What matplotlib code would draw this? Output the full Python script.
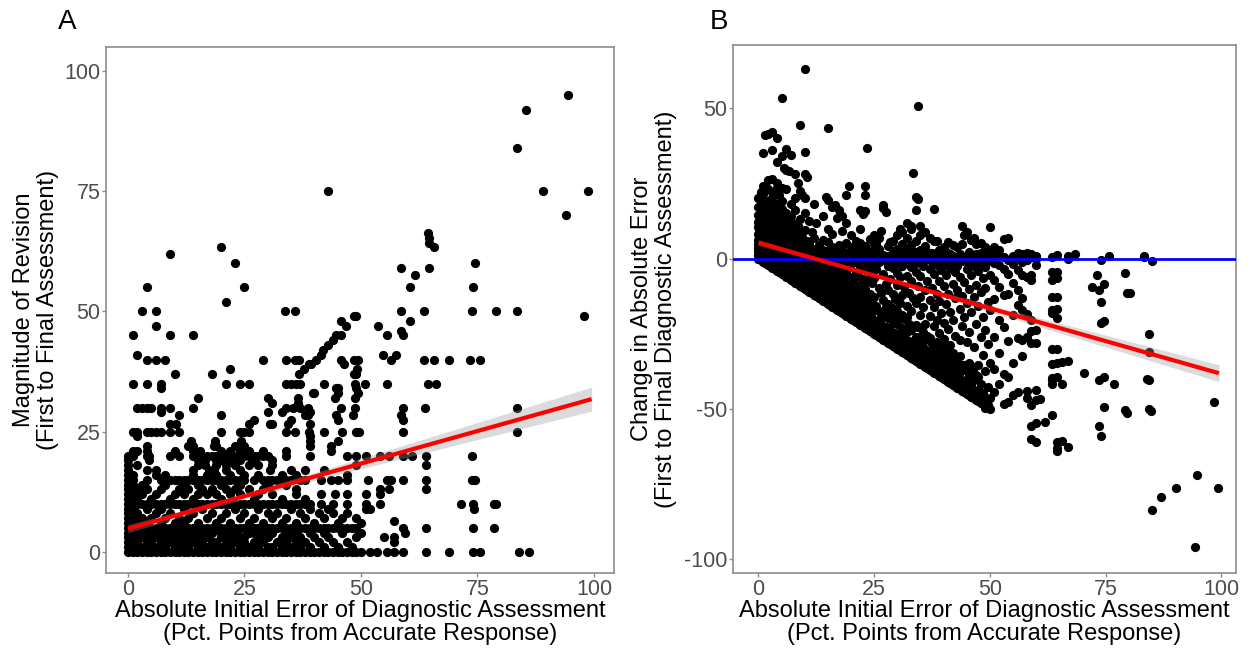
import matplotlib
matplotlib.use("Agg")
import matplotlib.pyplot as plt
import numpy as np

plt.rcParams['font.family'] = ['Liberation Sans', 'DejaVu Sans']
plt.rcParams['axes.unicode_minus'] = False

# ---------------- Panel A data: rows of (revision magnitude y, list of initial-error x) ----------------
a_rows = [
    (0, [0,1,2,3,4,5,6,7,8,9,10,11,12,13,14,15,16,17,18,19,20,21,22,23,24,25,26,27,28,29,30,31,32,33,34,35,36,37,38,39,40,41,42,43,44,45,46,47,48,49,50,52,53.5,55.5,57,59,64,69,74,75.5,84,86]),
    (1, [0,1,2,3,5,6,8,10,11,13,15,17,19,20,22,24,26,28,30,31,33,35,37,39,42,45,48]),
    (2, [0,1,2,4,5,7,9,10,12,14,16,18,19,21,23,25,27,29,32,34,36,38,41,44,47,57]),
    (3, [0,1,3,4,6,8,9,11,13,15,17,20,22,24,25,28,30,33,35,37,40,43,49,55,57]),
    (4, [0,1,2,3,5,7,9,10,12,14,16,18,20,21,23,26,27,29,31,34,36,39,42,46,50,59.4]),
    (5, [0,1,2,3,4,5,6,7,8,9,10,11,12,13,14,15,16,17,18,19,20,21,22,23,24,25,26,27,28,29,30,31,32,33,34,35,36,37,38,39,40,41,42,43,44,45,46,47,48,49,59,64,74,78.5]),
    (6, [0,2,4,7,10,12,15,19,22,26,29,33,36,40,45,50]),
    (6.5, [57]),
    (7, [0,1,3,5,8,11,13,17,20,24,27,31,34,38,42,46,49]),
    (8, [0,2,6,9,14,18,21,25,30,32,37,41,44,47]),
    (9, [0,1,4,7,12,16,23,28,35,39,43,51,52,74.3]),
    (10, [0,1,2,3,4,5,6,7,8,9,10,11,12,13,14,15,16,17,18,19,20,21,22,23,24,25,26,27,28,29,30,31,32,33,34,35,36,37,38,39,41.5,44,47,51,54,71.5,74,78.5,79]),
    (11, [0,1,2,5,9,14,20,27,33,38]),
    (12, [0,1,3,6,10,12,15,17,19,22,24,28,31,36,41.5,44.5,47,51,54]),
    (13, [0,1,2,4,7,11,13,16,18,21,23,26,29,36,54,56,64]),
    (14, [0,1,3,8,12,15,20,24,30,34]),
    (15, [0,1,4,7,8,9,10,11,12,13,14,15,16,17,18,19,20,21,22,23,24,25,27,29,30,31,32,33,34,35,37,38,41.5,43.5,45,47,51.5,55.5,56.5,59,64,73.8,74.5]),
    (16, [0,1,6,8,14,17,19,22,25,28,33,36,47]),
    (17, [0,4,6,14,17.5,18.5,21,24,30.5,35,38,42]),
    (18, [0,2,15,16.5,19,21,23,26,28,31,49,64]),
    (19, [0,4.5,15,16.5,19,20,22,24,27,31]),
    (20, [0,1,4,4.5,9,11,14,15,16,17,18,19,20,21,22,23,24,25,26,27,28,29,30,34,39,47,49,51,54,56,59,61,64,73.8]),
    (21, [1,2,4,10,14,15.5,20,22,24,26,29,34,43.5]),
    (22, [4,13,14,18.5,19,23,25,39,43.5]),
    (23, [13.6,18.6,24.3,39,45]),
    (24, [2,39]),
    (25, [1,2,4,5,6,7,9,11,20,24,25,26,34,35.8,38.8,42,46,49,49.6,59,83.5]),
    (26.5, [9,10.3,26,30.4,31,34.3,39]),
    (27.5, [27,35,45,59]),
    (28.5, [11,20,38,38.7,44.7,48.3,58.7]),
    (29, [7,30,33,39]),
    (30, [2,3,4,5,7,9,14,34,35.4,37,38.7,45.8,48.7,59,63.7,83.5]),
    (31, [31,36.5]),
    (32, [15,30,36.5,44.4,48.7]),
    (33, [39.7,40,45,49.4]),
    (34, [7,44.7,45,49]),
    (35, [1,4,7,21,24,26,34,35,36,37,42,48.7,50.8,55.7,64.4,66]),
    (37, [10,18,36.8,48.6,49]),
    (38, [22,37.8,49.2]),
    (39, [38.8,39.3,46.3]),
    (40, [4,6,8,29,34,35.8,36.7,40.4,45.8,48.5,49.3,56.5,63.6,65.6,69,73.5,75.6]),
    (41, [2,41.5,54.7,57.6]),
    (42, [41.8]),
    (43, [42.9]),
    (44, [44]),
    (45, [1,9,14,44.7,45.8,55.6,59]),
    (46, [58.5]),
    (47, [6,46.8,53.6]),
    (48, [45.8,60.6]),
    (49, [48.5,49,97.9]),
    (50, [3,6,33.8,35.8,58.6,63.6,73.8,79,83.5]),
    (52, [21]),
    (55, [4,25,60.6,74]),
    (57.5, [61.6]),
    (59, [58.6,64.6]),
    (60, [23,74.5]),
    (62, [9]),
    (63.5, [20,65.6]),
    (64.3, [64.7]),
    (65.3, [64.5]),
    (66.3, [64.3]),
    (70, [94]),
    (75, [43,89,98.8]),
    (84, [83.5]),
    (92, [85.5]),
    (95, [94.4]),
]

# ---------------- Panel B data: columns of (initial error x, list of change-in-error y) ----------------
b_cols = [
    (0, [0,1.2,2.5,3.6,4.9,6.3,8.1,10.4,12.2,14.5,17.1,20.3]),
    (0.5, [-0.5,0.6,1.9,3.2,5.5,7.4,9.1,11.3,13.6,16.2,19.4,22.1]),
    (1, [-1,0.2,1.5,4.3,6.6,8.8,10.1,12.9,15.3,18.2,21.4,24.1,35]),
    (1.5, [-1.5,-0.3,0.9,2.8,5.1,7.2,9.4,11.7,14.1,17.3,41]),
    (2, [-2,-0.8,0.4,2.1,3.9,6.1,8.4,10.6,13.2,16.4,19.2,23,26,41.5]),
    (2.5, [-2.5,-1.3,1.1,3.4,5.8,7.6,12.4,15.2,18.1]),
    (3, [-3,-1.8,-0.2,1.6,4.2,6.3,8.9,11.1,14.4,20.3,22,26.5,36,42]),
    (3.5, [-3.5,-2.2,-0.7,0.8,2.7,5.2,7.1,10.3,13.1,16.4]),
    (4, [-4,-2.7,-1.1,0.3,2.4,4.6,6.7,9.3,12.5,15.1,18,23.5,25,32,40]),
    (4.5, [-4.5,-3.2,-1.6,0.1,1.3,3.5,8.2,11.4,14.3,21]),
    (5, [-5,-3.6,-1.3,0.9,2.9,5.6,9.1,13.2,16.4,19,23.5,34,53.5]),
    (5.5, [-5.5,-4.1,-2.6,-0.5,1.7,4.2,7.3,10.2,30]),
    (6, [-6,-4.7,-3.1,-1.2,0.6,2.2,5.3,8.1,12.3,15.2,23.3,29.5,36.5]),
    (6.5, [-6.5,-5.2,-3.4,-0.9,1.3,3.1,6.4,9.2,29]),
    (7, [-7,-5.5,-3.9,-1.7,0.4,1.9,4.4,7.6,10.3,14.1,18,34.5]),
    (7.5, [-7.5,-6.2,-4.4,-2.3,-0.1,2.5,5.1,12]),
    (8, [-8,-6.7,-4.8,-2.8,-0.6,0.8,3.2,6.3,9.4,16,20,28]),
    (8.5, [-8.5,-7.1,-5.3,-3.3,-1.2,1.4,4.1,11,25]),
    (9, [-9,-7.6,-5.7,-3.6,-0.3,2.2,5.4,8.3,13,22.5,44.3]),
    (9.5, [-9.5,-8.2,-6.1,-4.2,-1.6,0.9,3.3,7.1,21]),
    (10, [-10,-8.5,-6.2,-3.4,-1.2,0.5,2.3,4.1,9.6,15,20,28,35.5,63]),
    (10.5, [-10.5,-9.1,-7.3,-4.6,-1.8,0.3,2.9,6,27]),
    (11, [-11,-9.6,-6.8,-2.7,1.2,4.8,12.4]),
    (11.5, [-11.5,-10.2,-7.9,-5.1,-0.6,3.3,8.7]),
    (12, [-12,-10.8,-8.3,-4.4,-2.2,0.4,2.1,6.8,18.3]),
    (12.5, [-12.5,-11.1,-6.5,-3.5,-0.9,1.6,11.7]),
    (13, [-13,-11.7,-9.2,-5.8,-1.5,0.9,4.6]),
    (13.5, [-13.5,-12.3,-10.4,-7.1,-2.8,0.2,3.1]),
    (14, [-14,-12.6,-9.8,-6.3,-3.9,-0.4,1.7,6.2,14]),
    (14.5, [-14.5,-13.4,-11.2,-8.5,-4.7,0.1,2.6,20.5]),
    (15, [-15,-13.2,-10.6,-7.4,-2.3,1.1,5.4,9.8,19.4,43.4]),
    (15.5, [-15.5,-14.1,-11.9,-5.6,-1.1,2.4]),
    (16, [-16,-14.6,-12.8,-9.3,-6.6,-3.2,-0.3,3.9,8.1,17.2]),
    (16.5, [-16.5,-15.2,-13.3,-10.1,-4.4,0.6,17.8]),
    (17, [-17,-15.5,-12.4,-8.2,-5.1,-1.6,1.9,13.4]),
    (17.5, [-17.5,-16.3,-14.2,-10.9,-2.5,0.8,4.4,16]),
    (18, [-18,-16.7,-13.5,-9.6,-6.9,-3.7,-0.2,2.7,9.3,14.2]),
    (18.5, [-18.5,-17.2,-14.9,-11.8,-7.7,-1.3,1.4]),
    (19, [-19,-17.4,-15.3,-12.1,-8.8,-4.9,-0.8,0.9,5.2,11.7,21]),
    (19.5, [-19.5,-18.1,-13.6,-10.4,-2.9,2.2,24]),
    (20, [-20,-18.6,-16.2,-12.7,-9.3,-6.1,-1.9,0.6,3.8,8]),
    (20.5, [-20.5,-19.2,-14.7,-7.4,-0.4,2.5]),
    (21, [-21,-19.5,-17.1,-13.8,-10.6,-4.3,-1.2,1.3,6]),
    (21.5, [-21.5,-20.3,-15.8,-11.5,-5.7,0.2,3.4]),
    (22, [-22,-20.6,-18.2,-15.4,-8.9,-2.6,0.7,5.1,10,16]),
    (22.5, [-22.5,-21.1,-17.2,-12.8,-6.8,-1.4,1.9,14.8]),
    (23, [-23,-21.4,-19.3,-15.9,-10.2,-3.3,0.1,4.2,15.9,21,24]),
    (23.5, [-23.5,-22.2,-18.6,-13.7,-7.6,-0.6,2.8,36.8]),
    (24, [-24,-22.7,-20.1,-16.9,-11.9,-4.8,-1.6,1.2,6.4]),
    (24.5, [-24.5,-23.3,-19.6,-14.2,-8.1,-2.1,0.8]),
    (25, [-25,-23.6,-21.2,-17.1,-12.6,-6.3,-0.9,2.6,4.9,8]),
    (25.5, [-25.5,-24.3,-20.7,-15.8,-3.4,1.7,5.3]),
    (26, [-26,-24.5,-22.4,-17.5,-9.7,-1.1,0.6,3.3,7]),
    (26.5, [-26.5,-25.2,-21.6,-19.3,-11.3,-0.2,9.3]),
    (27, [-27,-25.6,-23.1,-18.4,-13.9,-5.2,1.1,16.7,17.8]),
    (27.5, [-27.5,-26.3,-22.8,-16.2,-8.4,-0.7,15.6]),
    (28, [-28,-26.7,-24.4,-19.9,-15.2,-10.6,-2.3,0.9,4.1]),
    (28.5, [-28.5,-27.1,-23.7,-18.1,-6.9,0.3,5.6]),
    (29, [-29,-27.4,-25.2,-21.5,-16.4,-11.7,-3.1,-0.4,2.4,6]),
    (29.5, [-29.5,-28.2,-24.6,-20.2,-13.3,-1.8,1.6]),
    (30, [-30,-28.6,-26.5,-21.8,-17.3,-8.8,-4.7,0.2,3.1,8]),
    (30.5, [-30.5,-29.2,-25.7,-19.6,-14.8,-6.2,-0.9,10]),
    (31, [-31,-29.5,-27.3,-22.9,-18.6,-12.2,-2.4,1.4,5,9]),
    (31.5, [-31.5,-30.2,-26.6,-20.1,-9.6,-0.3,3.4]),
    (32, [-32,-30.6,-28.3,-24.3,-19.5,-15.6,-5.8,-1.3,0.8,7,12]),
    (32.5, [-32.5,-31.1,-27.4,-21.7,-11.4,-0.6,2.7]),
    (33, [-33,-31.4,-29.1,-23.8,-17.4,-7.6,-2.9,1.2,4.4,10,11]),
    (33.5, [-33.5,-32.2,-28.7,-22.5,-13.1,0.4,28.4]),
    (34, [-34,-32.6,-30.3,-25.9,-22.1,-14.6,-4.3,-1.5,2.1,6,16,20.5]),
    (34.5, [-34.5,-31.7,-27.8,-22.6,-9.2,0.9,19.7,50.6]),
    (35, [-35,-33.5,-30.9,-26.2,-18.8,-12.7,-5.9,-0.8,3,8,11]),
    (35.5, [-35.5,-34.1,-29.4,-24.4,-16.1,-2.6,1.5]),
    (36, [-36,-34.4,-32.2,-27.1,-21.8,-10.3,-0.4,4.2,9]),
    (36.5, [-36.5,-35.2,-30.8,-25.7,-7.3,2.3]),
    (37, [-37,-35.6,-33.3,-26.4,-19.2,-13.6,-3.6,0.6,7]),
    (37.5, [-37.5,-36.1,-31.6,-28.3,-9.9,-1.2,1.8]),
    (38, [-38,-36.4,-34.1,-29.2,-22.3,-16.2,-5.1,0.1,6,16.4]),
    (38.5, [-38.5,-37.2,-32.6,-27.6,-20.5,-11.6,-2.2,0.9,5.9]),
    (39, [-39,-37.6,-35.3,-30.1,-24.8,-14.1,-7.4,-0.7,3]),
    (39.5, [-39.5,-38.2,-33.7,-28.4,-18.1,-3.9,1.2]),
    (40, [-40,-38.5,-36.2,-31.8,-26.7,-21.3,-9.2,-1.9,0.4,4]),
    (40.5, [-40.5,-39.1,-34.4,-30.2,-15.2,-5.6,2.1]),
    (41, [-41,-39.7,-37.3,-32.1,-23.4,-11.8,-0.2,5.6]),
    (41.5, [-41.5,-40.2,-35.6,-33.9,-28.6,-17.7,-3.1,1.4]),
    (42, [-42,-40.6,-38.2,-31.4,-20.4,-8.3,-1.1,0.9,4.5]),
    (42.5, [-42.5,-41.3,-36.7,-33.2,-25.6,-13.2,-4.4]),
    (43, [-43,-41.5,-39.2,-34.6,-10.5,-2.4,0.3,4]),
    (43.5, [-43.5,-42.2,-37.8,-32.3,-27.1,-16.9,-6.2,1.6]),
    (44, [-44,-42.6,-40.4,-35.2,-22.5,-12.4,-0.8,1,5,11]),
    (44.5, [-44.5,-43.1,-37.1,-35.3,-19.4,-7.9,0.2,8]),
    (45, [-45,-43.6,-41.2,-36.3,-27.8,-14.9,-3.3,0.7,8.8]),
    (45.5, [-45.5,-44.3,-38.9,-34.8,-24.3,-10.1,-1.7,2.2]),
    (46, [-46,-44.7,-42.1,-37.4,-17.8,-5.3,0.3,6.2]),
    (46.5, [-46.2,-45.1,-40.3,-35.9,-29.4,-12.7,-2.6,6.7]),
    (47, [-47,-45.4,-38.6,-21.6,-8.7,-0.5,1.4,5]),
    (47.5, [-47.4,-43.6,-39.2,-35.2,-15.8,-4.1,0.9]),
    (48, [-48,-46.3,-41.7,-26.2,-11.2,-1.3,2,5.3]),
    (48.5, [-48.4,-44.8,-31.9,-19.5,-6.4,0.4]),
    (49, [-49.5,-47.1,-37.4,-23.7,-9.8,-2.9,1.2,4]),
    (49.5, [-48.7,-42.6,-28.4,-14.3,-0.8]),
    (50, [-50,-46.2,-34.6,-17.2,-5.4,0.2,3,10.5]),
    (51, [-44.3,-36.8,-26.1,-13.4,-7.2,-1.6,0.8,4]),
    (52, [-41.6,-31.5,-20.4,-9.3,-2.1,1.3,3]),
    (53, [-48.4,-38.2,-22.7,-12.1,-3.6,0.5,6.4]),
    (54, [-47.8,-39.5,-27.3,-11.6,-5.2,-0.6,6.7]),
    (55, [-45.2,-34.8,-18.6,-8.1,-1.9,1]),
    (56, [-44.4,-26.5,-15.3,-10.4,-3.8,0.7,2]),
    (57, [-32.4,-26.9,-17.1,-13.2,-5.3,-1.2,1.4]),
    (58, [-46.2,-44.1,-25.9,-18.4,-6.1,-0.4,1.8]),
    (59, [-60,-55.6,-48.6,-28,-24.2,-20.3,-7,-5.4,0.7,1.5]),
    (60, [-61,-54.7,-47,-43.8,-28.2,-23.6,-2,0,1]),
    (60.8, [-46.7]),
    (62, [-54.3]),
    (63.5, [-52,-41.8,-40.2,-39.6,-35,-30,-18.1,-17,-12.6,-7,-4.6,0.7]),
    (64.5, [-64,-62.8,-61.1,-39.5,-34.7,-29.9,-19.7,-16.8,-12.6,-6.6,-4.3,1.1]),
    (65.5, [-60.6,-41.8,-34.4]),
    (67, [-62.6,-34.2,0.9,-0.2]),
    (68.3, [1.4]),
    (70.3, [-38.1]),
    (72, [-9.4]),
    (73.1, [-5.5]),
    (73.5, [-10.3,-40.3,-55.5]),
    (74.1, [-0.3,-14.4,-21.4,-58.9]),
    (74.7, [-20.6,-39.5,-49.2,-8.5]),
    (75.7, [1]),
    (76.8, [-41.8]),
    (79.3, [-4.9,-50.3]),
    (79.6, [-11.3,-51.3]),
    (80.4, [-11.5]),
    (83.3, [1, 0.6]),
    (84.4, [-25.1,-31,-40.3,-50.1]),
    (83.9, [-40.1]),
    (84.8, [-50.6]),
    (85, [-0.7,-83.5]),
    (87, [-79.4]),
    (90.3, [-76.4]),
    (94.3, [-95.8]),
    (94.7, [-71.9]),
    (98.5, [-47.8]),
    (99.3, [-76.4]),
]

# Fitted regression lines (intercept, slope, x-span) and CI half-widths
fit_a = dict(intercept=4.8, slope=0.271, x0=0, x1=99.5, xm=20, ci_min=0.6, ci_end=2.5)
fit_b = dict(intercept=5.3, slope=-0.436, x0=0, x1=99.5, xm=22, ci_min=0.6, ci_end=2.8)

ticks_x = [0, 25, 50, 75, 100]
ticks_a_y = [0, 25, 50, 75, 100]
ticks_b_y = [-100, -50, 0, 50]

xlabel = "Absolute Initial Error of Diagnostic Assessment\n(Pct. Points from Accurate Response)"
ylabel_a = "Magnitude of Revision\n(First to Final Assessment)"
ylabel_b = "Change in Absolute Error\n(First to Final Diagnostic Assessment)"

# ---------------- build arrays ----------------
ax_x = np.array([x for y, xs in a_rows for x in xs], dtype=float)
ax_y = np.array([y for y, xs in a_rows for x in xs], dtype=float)
bx_x = np.array([x for x, ys in b_cols for y in ys], dtype=float)
bx_y = np.array([y for x, ys in b_cols for y in ys], dtype=float)

W, H = 1253, 651
fig = plt.figure(figsize=(W / 100, H / 100), dpi=100)

def px_axes(l, t, r, b):
    return fig.add_axes([l / W, 1 - b / H, (r - l) / W, (b - t) / H])

axA = px_axes(106, 47, 614, 573)
axB = px_axes(733, 45, 1236, 573)

TICK_C = '#4D4D4D'
FRAME_C = '#8C8C8C'

def fit_band(ax, f):
    xs = np.linspace(f['x0'], f['x1'], 100)
    yv = f['intercept'] + f['slope'] * xs
    k = np.sqrt(f['ci_end'] ** 2 - f['ci_min'] ** 2) / (f['x1'] - f['xm'])
    half = np.sqrt(f['ci_min'] ** 2 + (k * (xs - f['xm'])) ** 2)
    ax.fill_between(xs, yv - half, yv + half, color='#999999', alpha=0.35, lw=0, zorder=3)
    ax.plot(xs, yv, color='#FF0000', lw=3.0, zorder=5, solid_capstyle='butt')

def style(ax):
    for s in ax.spines.values():
        s.set_color(FRAME_C)
        s.set_linewidth(1.2)
    ax.tick_params(axis='both', colors=FRAME_C, labelcolor=TICK_C, labelsize=15.5,
                   length=3, width=1.0, pad=1)

# Panel A
axA.scatter(ax_x, ax_y, s=44, c='black', linewidths=0, zorder=2)
fit_band(axA, fit_a)
axA.set_xlim(-4.7, 104.3)
axA.set_ylim(-4.4, 105)
axA.set_xticks(ticks_x)
axA.set_yticks(ticks_a_y)
style(axA)
axA.set_xlabel(xlabel, fontsize=17, linespacing=1.05)
axA.set_ylabel(ylabel_a, fontsize=17, linespacing=1.1)
axA.xaxis.set_label_coords(0.5, -0.052)
axA.yaxis.set_label_coords(-0.0925, 0.5)

# Panel B
axB.scatter(bx_x, bx_y, s=44, c='black', linewidths=0, zorder=2)
axB.axhline(0, color='#0000FF', lw=2.0, zorder=4)
fit_band(axB, fit_b)
axB.set_xlim(-5.5, 103.2)
axB.set_ylim(-104.5, 71)
axB.set_xticks(ticks_x)
axB.set_yticks(ticks_b_y)
style(axB)
axB.set_xlabel(xlabel, fontsize=17, linespacing=1.05)
axB.set_ylabel(ylabel_b, fontsize=17, linespacing=1.1)
axB.xaxis.set_label_coords(0.5, -0.052)
axB.yaxis.set_label_coords(-0.111, 0.5)

fig.text(67 / W, 1 - 22 / H, 'A', fontsize=20, ha='center', va='center')
fig.text(719 / W, 1 - 22 / H, 'B', fontsize=20, ha='center', va='center')

fig.savefig('out.png', dpi=100)
